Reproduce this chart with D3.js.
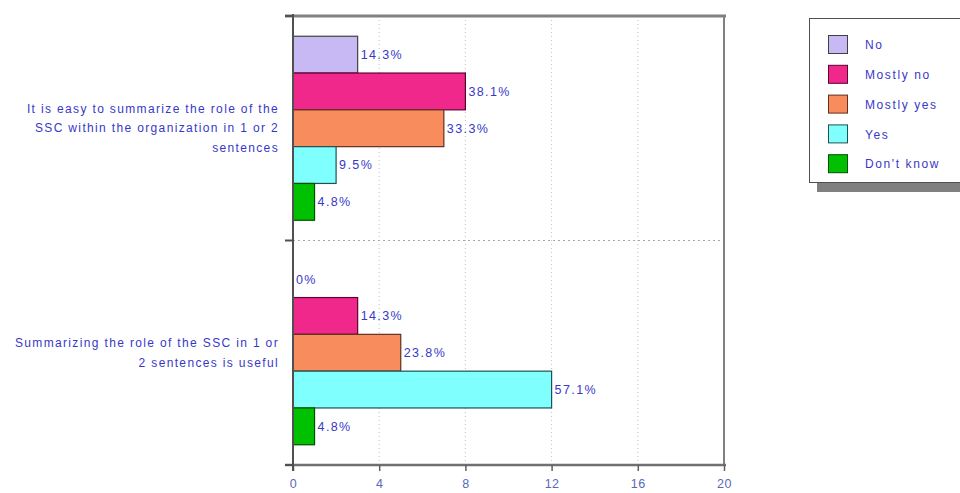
<!DOCTYPE html>
<html><head><meta charset="utf-8">
<script src="https://cdn.jsdelivr.net/npm/d3@7"></script>
<style>body{margin:0;background:#fff;} svg{display:block;font-family:Arial,"Liberation Sans",sans-serif;}</style>
</head><body>
<script>
const categories = [
  ["It is easy to summarize the role of the", "SSC within the organization in 1 or 2", "sentences"],
  ["Summarizing the role of the SSC in 1 or", "2 sentences is useful"]
];
const seriesNames = ["No", "Mostly no", "Mostly yes", "Yes", "Don't know"];
const countsQ1 = [3, 8, 7, 2, 1];
const countsQ2 = [0, 3, 5, 12, 1];
const pctQ1 = ["14.3%", "38.1%", "33.3%", "9.5%", "4.8%"];
const pctQ2 = ["0%", "14.3%", "23.8%", "57.1%", "4.8%"];
const xTicks = [0, 4, 8, 12, 16, 20];

(function () {
const palette = ["#c8b8f4", "#f0288c", "#f88c5c", "#80ffff", "#00c000"];
const strokes = ["#404040", "#600030", "#603020", "#205050", "#005000"];
const textBlue = "#3838c8";

const W = 960, H = 493;
const svg = d3.select("body").append("svg").attr("width", W).attr("height", H);

const pLeft = 293, pRight = 724, pTop = 16, pBottom = 465;
const x = d3.scaleLinear().domain([0, 20]).range([pLeft, pRight]);
const y0 = d3.scaleBand().domain([0, 1]).range([pTop, pBottom]);
const y1 = d3.scaleBand().domain(d3.range(seriesNames.length)).range([0, y0.bandwidth()]).paddingOuter(0.55).paddingInner(0);

const data = [
  {cat: 0, counts: countsQ1, pct: pctQ1},
  {cat: 1, counts: countsQ2, pct: pctQ2}
];

// vertical dotted gridlines
svg.append("g").selectAll("line").data(xTicks.slice(1, -1)).join("line")
  .attr("x1", d => x(d)).attr("x2", d => x(d)).attr("y1", pTop).attr("y2", pBottom)
  .attr("stroke", "#c0c0c0").attr("stroke-dasharray", "1,3");
// horizontal divider
svg.append("line").attr("x1", pLeft).attr("x2", pRight).attr("y1", y0(1)).attr("y2", y0(1))
  .attr("stroke", "#a8a8a8").attr("stroke-dasharray", "2,3");

// bars
const g = svg.append("g").selectAll("g").data(data).join("g")
  .attr("transform", d => `translate(0,${y0(d.cat)})`);
g.selectAll("rect").data(d => d.counts.map((v, i) => ({v, i}))).join("rect")
  .attr("x", x(0)).attr("y", d => y1(d.i))
  .attr("width", d => x(d.v) - x(0)).attr("height", y1.bandwidth())
  .attr("fill", d => palette[d.i]).attr("stroke", d => strokes[d.i]).attr("stroke-width", 1.2)
  .attr("display", d => d.v > 0 ? null : "none");
g.selectAll("text").data(d => d.counts.map((v, i) => ({v, i, p: d.pct[i]}))).join("text")
  .attr("x", d => x(d.v) + 3).attr("y", d => y1(d.i) + y1.bandwidth() / 2)
  .attr("dy", "0.35em").attr("fill", textBlue).attr("font-size", 12.5).attr("letter-spacing", 1.4)
  .text(d => d.p);

// frame
svg.append("line").attr("x1", 285).attr("x2", pRight + 2).attr("y1", pTop).attr("y2", pTop)
  .attr("stroke", "#808080").attr("stroke-width", 3);
svg.append("line").attr("x1", pRight).attr("x2", pRight).attr("y1", pTop).attr("y2", pBottom)
  .attr("stroke", "#808080").attr("stroke-width", 2);

// x axis
const xAxis = svg.append("g").attr("transform", `translate(0,${pBottom})`)
  .call(d3.axisBottom(x).tickValues(xTicks).tickSize(6).tickSizeOuter(0));
xAxis.select(".domain").attr("stroke", "#707070").attr("stroke-width", 2.5).attr("d", `M285,0H${pRight + 2}`);
xAxis.selectAll(".tick line").attr("stroke", "#606060").attr("stroke-width", 1.5);
xAxis.selectAll(".tick text").attr("fill", "#5868b8").attr("font-size", 12.5).attr("dy", "1.1em")
  .attr("letter-spacing", 0.5)
  .attr("font-family", "Arial, 'Liberation Sans', sans-serif");

// y axis line + ticks
svg.append("line").attr("x1", pLeft).attr("x2", pLeft).attr("y1", pTop - 2).attr("y2", pBottom + 6)
  .attr("stroke", "#505050").attr("stroke-width", 2);
svg.append("g").selectAll("line").data([pTop, y0(1), pBottom]).join("line")
  .attr("x1", 285).attr("x2", pLeft).attr("y1", d => d).attr("y2", d => d)
  .attr("stroke", "#505050").attr("stroke-width", 2);

// category labels
const lab = svg.append("g").selectAll("text").data(categories).join("text")
  .attr("text-anchor", "end").attr("fill", textBlue).attr("font-size", 12).attr("letter-spacing", 1.35);
lab.each(function(lines, ci) {
  const cy = y0(ci) + y0.bandwidth() / 2;
  const lh = 19.5;
  const start = cy - (lines.length - 1) * lh / 2;
  d3.select(this).selectAll("tspan").data(lines).join("tspan")
    .attr("x", 279).attr("y", (d, i) => start + i * lh).attr("dy", "0.35em").text(d => d);
});

// legend
const lg = svg.append("g");
lg.append("rect").attr("x", 817).attr("y", 27).attr("width", 200).attr("height", 165).attr("fill", "#808080");
lg.append("rect").attr("x", 809.5).attr("y", 18.5).attr("width", 200).attr("height", 164)
  .attr("fill", "#fff").attr("stroke", "#505050");
const items = lg.selectAll("g").data(seriesNames).join("g")
  .attr("transform", (d, i) => `translate(828,${45 + i * 29.8})`);
items.append("rect").attr("x", 0.5).attr("y", -9.5).attr("width", 19).attr("height", 18)
  .attr("fill", (d, i) => palette[i]).attr("stroke", (d, i) => strokes[i]);
items.append("text").attr("x", 37).attr("dy", "0.35em").attr("fill", textBlue)
  .attr("font-size", 12).attr("letter-spacing", 1.6).text(d => d);
})();
</script>
</body></html>
